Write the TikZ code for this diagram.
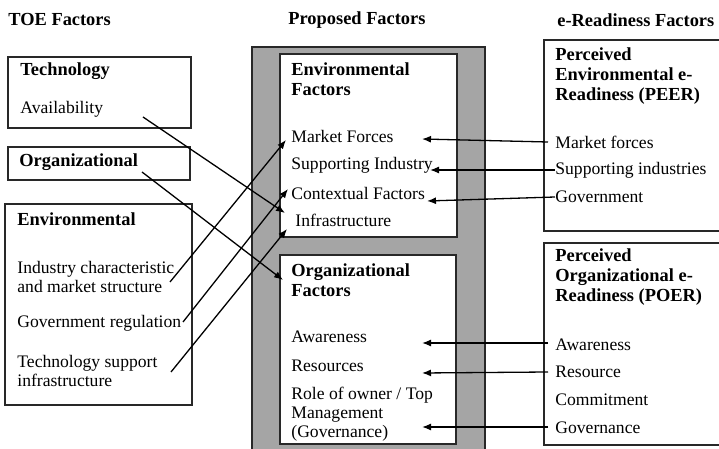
\documentclass[tikz,border=0pt]{standalone}
\usepackage{fontspec}
\setmainfont{Liberation Serif}
\usetikzlibrary{arrows.meta, positioning, calc}
\definecolor{frameline}{RGB}{40,40,40}
\definecolor{shade}{RGB}{165,165,165}
\tikzset{
  frame/.style={draw=frameline, line width=0.85pt},
  head/.style={anchor=west, inner sep=0pt, align=left,
               font=\fontsize{9.2}{9.9}\selectfont\bfseries},
  item/.style={anchor=west, inner sep=0pt, align=left,
               font=\fontsize{8.8}{9.4}\selectfont},
  link/.style={-{Latex[length=4.5pt,width=3.5pt]}, line width=0.65pt, black},
}

\begin{document}
\begin{tikzpicture}[x=0.5pt, y=-0.5pt]
        \useasboundingbox (0,0) rectangle (719,449);
        \clip (0,0) rectangle (719,449);

        % column headers
        \node[head] (toeh) at (8,20) {TOE Factors};
        \node[head] (proph) at (288,20) {Proposed Factors};
        \node[head] (erh) at (557,20) {e-Readiness Factors};

        % TOE factors
        \draw[frame] (8,57) rectangle (191,128);
        \node[head] (techt) at (20,71) {Technology};
        \node[item] (avail) at (20,109) {Availability};
        \draw[frame] (8,147) rectangle (190,180);
        \node[head] (orgt) at (19,162) {Organizational};
        \draw[frame] (5,204) rectangle (192,405);
        \node[head] (envt) at (17,219) {Environmental};
        \node[item] (ind) at (17,277) {Industry characteristic\\and market structure};
        \node[item] (gov) at (17,323) {Government regulation};
        \node[item] (tsi) at (17,371) {Technology support\\infrastructure};

        % proposed factors
        \draw[frame, fill=shade] (252,47) rectangle (485,455);
        \draw[frame, fill=white] (280,54) rectangle (457,237);
        \node[head] (envft) at (291,79) {Environmental\\Factors};
        \node[item] (mf) at (291,136) {Market Forces};
        \node[item] (si) at (291,165) {Supporting Industry};
        \node[item] (cf) at (291,193) {Contextual Factors};
        \node[item] (inf) at (295,220) {Infrastructure};
        \draw[frame, fill=white] (280,255) rectangle (456,444);
        \node[head] (orgft) at (291,280) {Organizational\\Factors};
        \node[item] (aw) at (291,337) {Awareness};
        \node[item] (res) at (291,366) {Resources};
        \node[item] (role) at (291,414) {Role of owner / Top\\Management\\(Governance)};

        % e-readiness factors
        \draw[frame] (544,40) rectangle (725,231);
        \node[head] (peert) at (555,76) {Perceived\\Environmental e-\\Readiness (PEER)};
        \node[item] (pmf) at (555,142) {Market forces};
        \node[item] (psi) at (555,170) {Supporting industries};
        \node[item] (pgov) at (555,197) {Government};
        \draw[frame] (544,243) rectangle (725,445);
        \node[head] (poert) at (555,277) {Perceived\\Organizational e-\\Readiness (POER)};
        \node[item] (paw) at (555,345) {Awareness};
        \node[item] (pres) at (555,372) {Resource};
        \node[item] (pcom) at (555,400) {Commitment};
        \node[item] (pgovn) at (555,428) {Governance};

        % TOE to proposed
        \draw[link] ($(avail.west)+(123,8)$) -- ($(inf.west)+(-10,-7)$);
        \draw[link] ($(orgt.west)+(123,10)$) -- ($(orgft.west)+(-8,0)$);
        \draw[link] ($(ind.west)+(153,5)$) -- ($(mf.west)+(-5,4)$);
        \draw[link] ($(gov.west)+(166,-1)$) -- ($(cf.west)+(-3,-4)$);
        \draw[link] ($(tsi.west)+(154,1)$) -- ($(inf.west)+(-8,9)$);

        % e-readiness to proposed
        \draw[link] ($(pmf.west)+(-7,0)$) -- ($(mf.west)+(131,3)$);
        \draw[link] (psi.west) -- ($(si.west)+(139,5)$);
        \draw[link] (pgov.west) -- ($(cf.west)+(136,8)$);
        \draw[link] ($(paw.west)+(-7,-2)$) -- ($(aw.west)+(131,6)$);
        \draw[link] ($(pres.west)+(-7,0)$) -- ($(res.west)+(131,7)$);
        \draw[link] ($(pgovn.west)+(-7,-1)$) -- ($(role.west)+(131,13)$);

      \end{tikzpicture}
\end{document}
